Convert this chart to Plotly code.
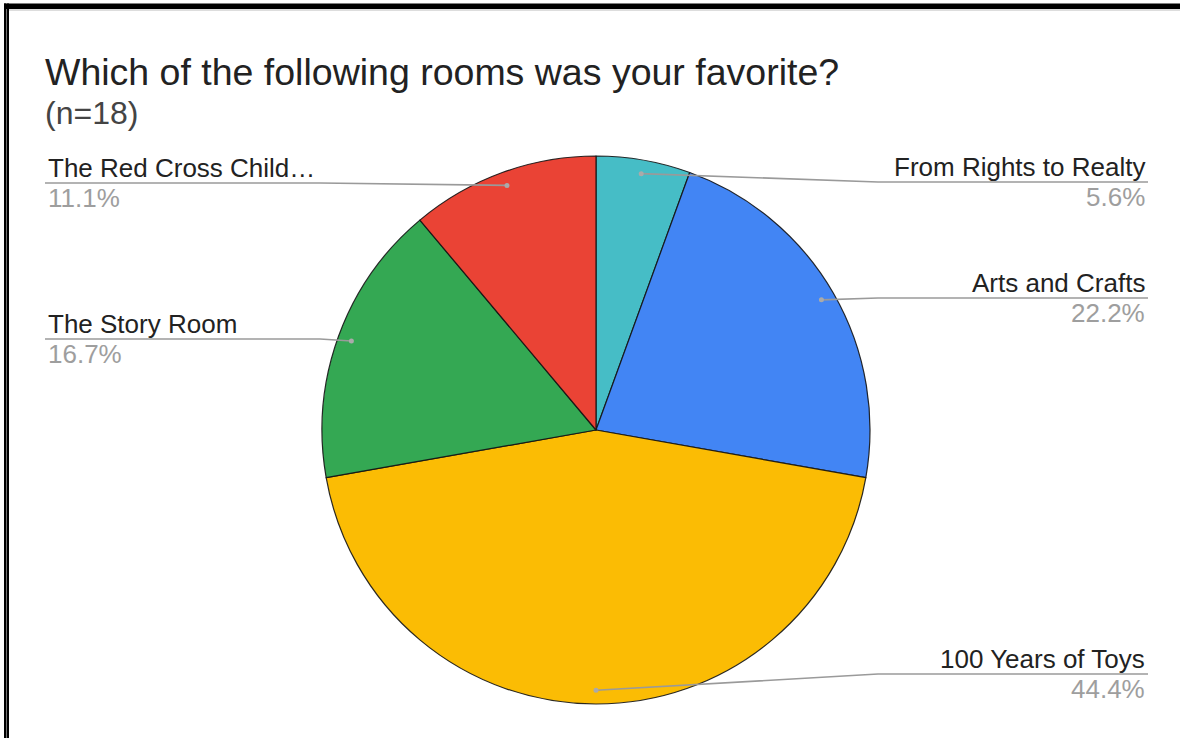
import math
import plotly.graph_objects as go

# ---------------- data ----------------
title = "Which of the following rooms was your favorite?"
subtitle = "(n=18)"
rooms = ["From Rights to Realty", "Arts and Crafts", "100 Years of Toys",
         "The Story Room", "The Red Cross Child…"]
counts = [1, 4, 8, 3, 2]
colors = ["#46BDC6", "#4285F4", "#FBBC04", "#34A853", "#EA4335"]

# ---------------- layout config (pixels) ----------------
W, H = 1180, 738
CX, CY, R = 596, 430, 274          # pie centre and radius
DOT_R = 0.95                        # leader dot radius as fraction of R
label_side = ["right", "right", "right", "left", "left"]
label_line_y = [182, 298, 674, 339, 183]
RIGHT_X, LEFT_X = 1148, 45
RIGHT_ELBOW, LEFT_ELBOW = 878, 320
FONT = "Arial, Liberation Sans, sans-serif"


def px(x):
    return x / W


def py(y):
    return 1 - y / H


total = sum(counts)
pcts = [f"{100 * c / total:.1f}%" for c in counts]

fig = go.Figure()
fig.add_trace(go.Pie(
    labels=rooms, values=counts, sort=False, direction="clockwise", rotation=0,
    marker=dict(colors=colors, line=dict(color="rgba(20,20,20,0.9)", width=1.2)),
    textinfo="none", hoverinfo="skip", showlegend=False,
    domain=dict(x=[px(CX - R), px(CX + R)], y=[py(CY + R), py(CY - R)]),
))

shapes = []
annotations = []
cum = 0
for name, c, side, ly, pct in zip(rooms, counts, label_side, label_line_y, pcts):
    mid = (cum + c / 2) / total * 2 * math.pi
    cum += c
    dx = CX + DOT_R * R * math.sin(mid)
    dy = CY - DOT_R * R * math.cos(mid)
    if side == "right":
        ex, endx, xanchor, tx = max(RIGHT_ELBOW, dx), RIGHT_X, "right", RIGHT_X - 1
    else:
        ex, endx, xanchor, tx = min(LEFT_ELBOW, dx), LEFT_X, "left", LEFT_X + 1
    path = (f"M {px(dx)},{py(dy)} L {px(ex)},{py(ly)} L {px(endx)},{py(ly)}")
    shapes.append(dict(type="path", path=path, xref="paper", yref="paper",
                       line=dict(color="#9a9a9a", width=1.6), layer="above"))
    shapes.append(dict(type="circle", xref="paper", yref="paper",
                       x0=px(dx - 2.5), x1=px(dx + 2.5), y0=py(dy + 2.5), y1=py(dy - 2.5),
                       fillcolor="#aaaaaa", line=dict(width=0), layer="above"))
    annotations.append(dict(text=name, x=px(tx), y=py(ly - 15), xref="paper", yref="paper",
                            xanchor=xanchor, yanchor="middle", showarrow=False,
                            font=dict(family=FONT, size=26, color="#222222")))
    annotations.append(dict(text=pct, x=px(tx), y=py(ly + 15), xref="paper", yref="paper",
                            xanchor=xanchor, yanchor="middle", showarrow=False,
                            font=dict(family=FONT, size=26, color="#9e9e9e")))

annotations.append(dict(text=title, x=px(43), y=py(72), xref="paper", yref="paper",
                        xanchor="left", yanchor="middle", showarrow=False,
                        font=dict(family=FONT, size=37.5, color="#222222")))
annotations.append(dict(text=subtitle, x=px(43), y=py(113), xref="paper", yref="paper",
                        xanchor="left", yanchor="middle", showarrow=False,
                        font=dict(family=FONT, size=32, color="#444444")))

# frame (top bar and double left rule)
shapes.append(dict(type="rect", xref="paper", yref="paper", x0=px(4), x1=1, y0=py(9), y1=py(3.5),
                   fillcolor="black", line=dict(width=0), layer="above"))
shapes.append(dict(type="line", xref="paper", yref="paper", x0=px(9), x1=1, y0=py(10), y1=py(10),
                   line=dict(color="#bbbbbb", width=1), layer="above"))
shapes.append(dict(type="rect", xref="paper", yref="paper", x0=px(4), x1=px(6), y0=0, y1=py(3.5),
                   fillcolor="black", line=dict(width=0), layer="above"))
shapes.append(dict(type="rect", xref="paper", yref="paper", x0=px(6), x1=px(6.8), y0=0, y1=py(9),
                   fillcolor="#777777", line=dict(width=0), layer="above"))
shapes.append(dict(type="rect", xref="paper", yref="paper", x0=px(6.8), x1=px(9), y0=0, y1=py(3.5),
                   fillcolor="black", line=dict(width=0), layer="above"))

fig.update_layout(
    width=W, height=H, margin=dict(l=0, r=0, t=0, b=0),
    paper_bgcolor="white", plot_bgcolor="white",
    shapes=shapes, annotations=annotations, showlegend=False,
)
fig.write_html("out.html", config={"displayModeBar": False},
               post_script="document.body.style.margin='0';document.body.style.overflow='hidden';")
